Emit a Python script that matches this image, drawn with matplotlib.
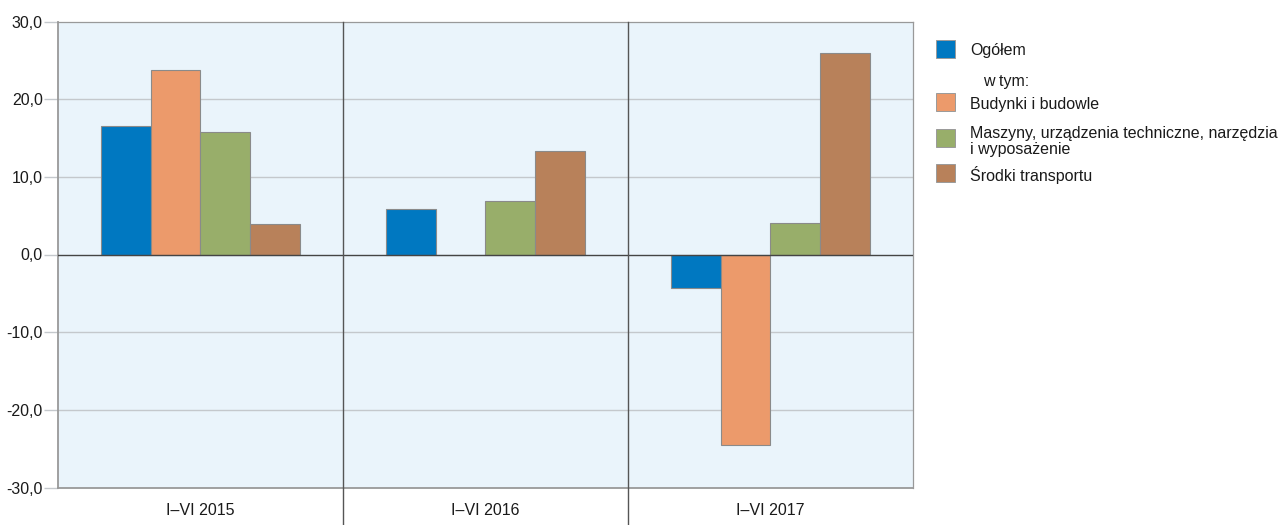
import numpy as np
import matplotlib.pyplot as plt
from matplotlib.patches import Rectangle

plt.rcParams['font.family'] = ['Liberation Sans', 'DejaVu Sans']

# dane
okresy = ["I–VI 2015", "I–VI 2016", "I–VI 2017"]
serie = ["Ogółem", "Budynki i budowle",
         "Maszyny, urządzenia techniczne, narzędzia\ni wyposażenie",
         "Środki transportu"]
ogolem = [16.6, 5.9, -4.3]
budynki = [23.7, 0.0, -24.5]
maszyny = [15.8, 6.9, 4.0]
transport = [3.9, 13.3, 26.0]
kolory = ["#0078C1", "#EC9A6B", "#98AE6A", "#B8815A"]

W, H = 1282, 525
fig = plt.figure(figsize=(W / 100, H / 100), dpi=100)
ax = fig.add_axes([58 / W, 1 - 487.5 / H, (913 - 58) / W, (487.5 - 21.5) / H])
ax.set_facecolor("#EAF4FB")

x = np.arange(len(okresy))
bw = 0.1754
wartosci = [ogolem, budynki, maszyny, transport]
for i, (vals, c) in enumerate(zip(wartosci, kolory)):
    ax.bar(x + (i - 1.5) * bw, vals, bw, color=c, edgecolor="#8a8a8a",
           linewidth=0.8, zorder=3)

ax.set_xlim(-0.5, 2.5)
ax.set_ylim(-30, 30)
yt = np.arange(-30, 31, 10)
ax.set_yticks(yt)
ax.set_yticklabels([f"{v:.1f}".replace(".", ",") for v in yt])
ax.set_xticks(x)
ax.set_xticklabels(okresy)
ax.tick_params(axis="x", length=0, pad=11, labelsize=11.5, colors="#1a1a1a")
ax.tick_params(axis="y", length=10, width=1.0, color="#c4c8cc", pad=1,
               labelsize=11.5, labelcolor="#1a1a1a")

# linie siatki i oś zero
for v in [-20, -10, 10, 20]:
    ax.axhline(v, color="#c4c8cc", linewidth=1.0, zorder=1)
ax.axhline(0, color="#444444", linewidth=1.0, zorder=4)

# pionowe separatory okresów
for xs in [0.5, 1.5]:
    ax.axvline(xs, ymin=-0.08, ymax=1, color="#555555", linewidth=1.0,
               clip_on=False, zorder=4)

for s in ["left", "bottom"]:
    ax.spines[s].set_color("#999999")
    ax.spines[s].set_linewidth(1.3)
for s in ["top", "right"]:
    ax.spines[s].set_color("#999999")
    ax.spines[s].set_linewidth(0.9)

# legenda
def fx(px):
    return px / W

def fy(py):
    return 1 - py / H

kwadraty = [48.5, 102, 138, 173]
teksty = [50, 105, 141.5, 175]
for nazwa, c, ky, ty in zip(serie, kolory, kwadraty, teksty):
    fig.patches.append(Rectangle((fx(936), fy(ky + 9)), 19 / W, 18 / H,
                                 transform=fig.transFigure, facecolor=c,
                                 edgecolor="#9a9a9a", linewidth=0.7))
    fig.text(fx(970), fy(ty), nazwa, fontsize=11.5, color="#1a1a1a",
             va="center", ha="left", linespacing=1.05)
fig.text(fx(983), fy(81.5), "w tym:", fontsize=11.5, color="#1a1a1a",
         va="center", ha="left")

fig.savefig("out.png", dpi=100)
